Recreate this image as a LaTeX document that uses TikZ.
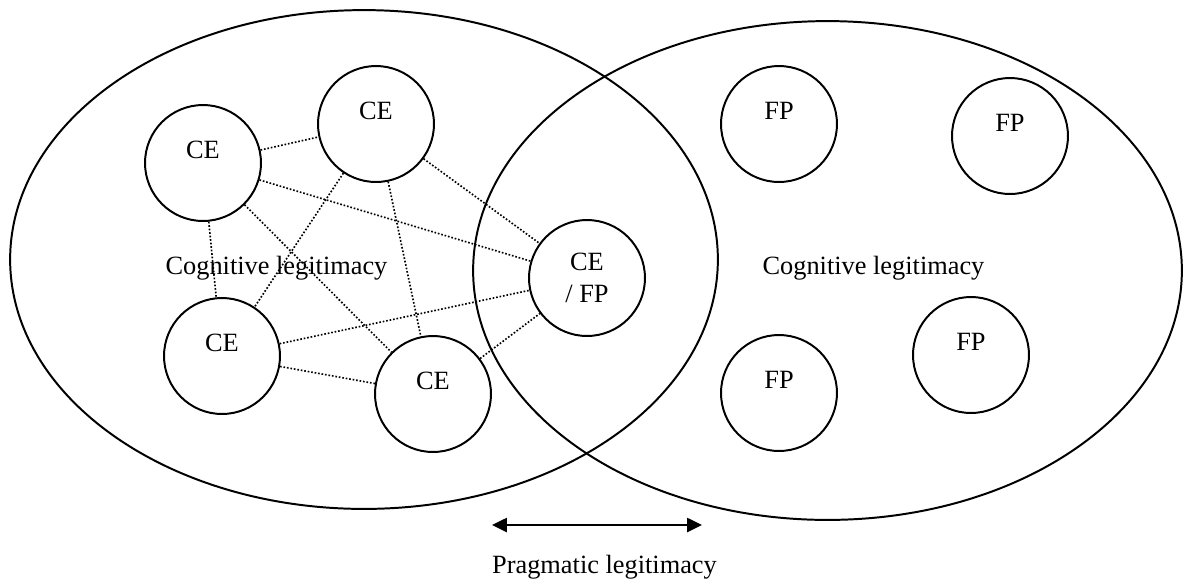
\documentclass[tikz,border=0pt]{standalone}
\usepackage{fontspec}
\setmainfont{Liberation Serif}
\usetikzlibrary{shapes.geometric, arrows.meta}

\begin{document}
\begin{tikzpicture}[x=0.016cm, y=-0.016cm,
    every node/.style={font=\fontsize{12}{14.5}\selectfont},
    field/.style={ellipse, draw, line width=0.9pt, minimum height=7.984cm,
                  inner sep=0pt},
    actor/.style={circle, draw, line width=0.9pt, minimum size=1.856cm,
                  inner sep=0pt, text height=0.3cm, text depth=0.46cm},
    hybrid/.style={circle, draw, line width=0.9pt, minimum size=1.856cm,
                   inner sep=0pt, align=center},
    link/.style={line width=0.75pt, dash pattern=on 0.75pt off 0.85pt}
  ]
  \useasboundingbox (0,0) rectangle (1184,586);

  % the two fields
  \node[field, minimum width=11.328cm] (cefield) at (364,259.5) {};
  \node[field, minimum width=11.344cm] (fpfield) at (827.5,270.5) {};
  \node[anchor=base] (lcog) at (276.5,274) {Cognitive legitimacy};
  \node[anchor=base] (rcog) at (873.5,274) {Cognitive legitimacy};

  % actors
  \node[actor] (ce1) at (203,163) {CE};
  \node[actor] (ce2) at (376,124) {CE};
  \node[actor] (ce3) at (222,356) {CE};
  \node[actor] (ce4) at (433,394) {CE};
  \node[hybrid] (cefp) at (587,278) {CE\\/ FP};
  \node[actor] (fp1) at (779,124) {FP};
  \node[actor] (fp2) at (1010,136) {FP};
  \node[actor] (fp3) at (779,393) {FP};
  \node[actor] (fp4) at (971,355) {FP};

  % network ties
  \draw[link] (ce1) -- (ce2);
  \draw[link] (ce1) -- (ce3);
  \draw[link] (ce1) -- (ce4);
  \draw[link] (ce1) -- (cefp);
  \draw[link] (ce2) -- (ce3);
  \draw[link] (ce2) -- (ce4);
  \draw[link] (ce2) -- (cefp);
  \draw[link] (ce3) -- (ce4);
  \draw[link] (ce3) -- (cefp);
  \draw[link] (ce4) -- (cefp);

  % pragmatic legitimacy
  \coordinate (pl) at (492,525);
  \coordinate (pr) at (702,525);
  \draw[{Triangle[length=0.24cm,width=0.224cm]}-{Triangle[length=0.24cm,width=0.224cm]},
        line width=1.2pt] (pl) -- (pr);
  \node[anchor=base] (prag) at (604.5,573) {Pragmatic legitimacy};
\end{tikzpicture}
\end{document}
